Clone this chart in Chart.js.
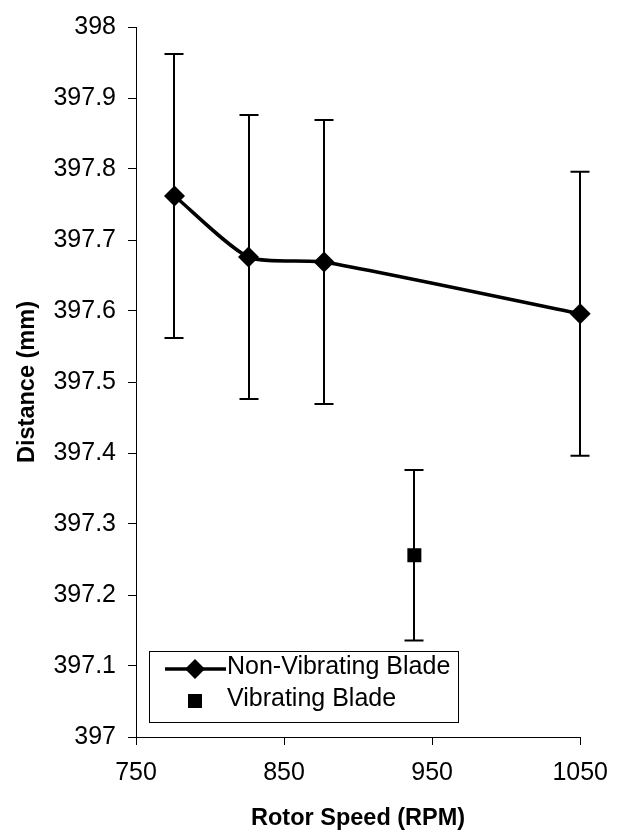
<!DOCTYPE html>
<html>
<head>
<meta charset="utf-8">
<script src="https://cdn.jsdelivr.net/npm/chart.js@4/dist/chart.umd.min.js"></script>
<style>
html,body{margin:0;padding:0;background:#fff;}
#wrap{width:621px;height:833px;position:relative;}
</style>
</head>
<body>
<div id="wrap"><canvas id="c" width="621" height="833"></canvas></div>
<script>
// ---- data ----
const seriesNames = ['Non-Vibrating Blade', 'Vibrating Blade'];
const rpmNon  = [776, 826, 877, 1050];
const distNon = [397.762, 397.676, 397.669, 397.596];
const errNon  = [0.2, 0.2, 0.2, 0.2];
const rpmVib  = [938];
const distVib = [397.256];
const errVib  = [0.12];
const xTicks = [750, 850, 950, 1050];
const yTicks = [397, 397.1, 397.2, 397.3, 397.4, 397.5, 397.6, 397.7, 397.8, 397.9, 398];
const xTitle = 'Rotor Speed (RPM)';
const yTitle = 'Distance (mm)';

const FONT = "'Liberation Sans', Arial, sans-serif";

const nonPts = rpmNon.map((v, i) => ({x: v, y: distNon[i], e: errNon[i]}));
const vibPts = rpmVib.map((v, i) => ({x: v, y: distVib[i], e: errVib[i]}));

const errorBars = {
  id: 'errorBars',
  beforeDatasetsDraw(chart) {
    const {ctx, scales: {x, y}} = chart;
    ctx.save();
    ctx.strokeStyle = '#000';
    ctx.lineWidth = 2;
    chart.data.datasets.forEach(ds => {
      ds.data.forEach(p => {
        const px = Math.round(x.getPixelForValue(p.x));
        const top = y.getPixelForValue(p.y + p.e);
        const bot = y.getPixelForValue(p.y - p.e);
        ctx.beginPath();
        ctx.moveTo(px, top); ctx.lineTo(px, bot);
        ctx.moveTo(px - 9.5, top); ctx.lineTo(px + 9.5, top);
        ctx.moveTo(px - 9.5, bot); ctx.lineTo(px + 9.5, bot);
        ctx.stroke();
      });
    });
    ctx.restore();
  }
};

const boxLegend = {
  id: 'boxLegend',
  afterDraw(chart) {
    const ctx = chart.ctx;
    const ds = chart.data.datasets;
    ctx.save();
    ctx.fillStyle = '#fff';
    ctx.fillRect(149.5, 651.5, 309, 71);
    ctx.strokeStyle = '#000';
    ctx.lineWidth = 1;
    ctx.strokeRect(149.5, 651.5, 309, 71);
    // row 1: line + diamond
    ctx.lineWidth = 3.5;
    ctx.beginPath();
    ctx.moveTo(165, 669); ctx.lineTo(226, 669);
    ctx.stroke();
    ctx.fillStyle = '#000';
    ctx.beginPath();
    ctx.moveTo(195, 659); ctx.lineTo(205, 669); ctx.lineTo(195, 679); ctx.lineTo(185, 669);
    ctx.closePath(); ctx.fill();
    // row 2: square
    ctx.fillRect(188, 694, 14, 14);
    ctx.font = '25px ' + FONT;
    ctx.textBaseline = 'middle';
    ctx.textAlign = 'left';
    ctx.fillText(ds[0].label, 227, 667);
    ctx.fillText(ds[1].label, 227, 699);
    ctx.restore();
  }
};

new Chart(document.getElementById('c'), {
  type: 'line',
  data: {
    datasets: [
      {
        label: seriesNames[0],
        data: nonPts,
        borderColor: '#000',
        backgroundColor: '#000',
        borderWidth: 3.5,
        tension: 0.22,
        pointStyle: 'rectRot',
        pointRadius: 10.5,
        pointBorderWidth: 0,
        pointBackgroundColor: '#000',
        clip: false
      },
      {
        label: seriesNames[1],
        data: vibPts,
        showLine: false,
        borderColor: '#000',
        backgroundColor: '#000',
        pointStyle: 'rect',
        pointRadius: 9.9,
        pointBorderWidth: 0,
        pointBackgroundColor: '#000',
        clip: false
      }
    ]
  },
  options: {
    responsive: false,
    animation: false,
    events: [],
    layout: {padding: {left: 0, top: 23, right: 37, bottom: 0}},
    plugins: {legend: {display: false}, tooltip: {enabled: false}},
    scales: {
      x: {
        type: 'linear',
        min: 750, max: 1050,
        afterBuildTicks: s => { s.ticks = xTicks.map(v => ({value: v})); },
        afterFit: s => { s.height = 96; },
        ticks: {color: '#000', font: {family: FONT, size: 25}, padding: 13, maxRotation: 0,
                callback: v => String(v)},
        grid: {drawOnChartArea: false, drawTicks: true, tickLength: 8, color: '#000', lineWidth: 1},
        border: {display: true, color: '#000', width: 1},
        title: {display: true, text: xTitle, color: '#000',
                font: {family: FONT, size: 23.5, weight: 'bold'}, padding: {top: 0, bottom: 0}}
      },
      y: {
        type: 'linear',
        min: 397, max: 398,
        afterBuildTicks: s => { s.ticks = yTicks.map(v => ({value: v})); },
        afterFit: s => { s.width = 136; },
        ticks: {color: '#000', font: {family: FONT, size: 25}, padding: 12,
                callback: v => String(Number(v.toFixed(1)))},
        grid: {drawOnChartArea: false, drawTicks: true, tickLength: 8, color: '#000', lineWidth: 1},
        border: {display: true, color: '#000', width: 1},
        title: {display: true, text: yTitle, color: '#000',
                font: {family: FONT, size: 23.5, weight: 'bold'}, padding: {top: 13, bottom: 0}}
      }
    }
  },
  plugins: [errorBars, boxLegend]
});
</script>
</body>
</html>
